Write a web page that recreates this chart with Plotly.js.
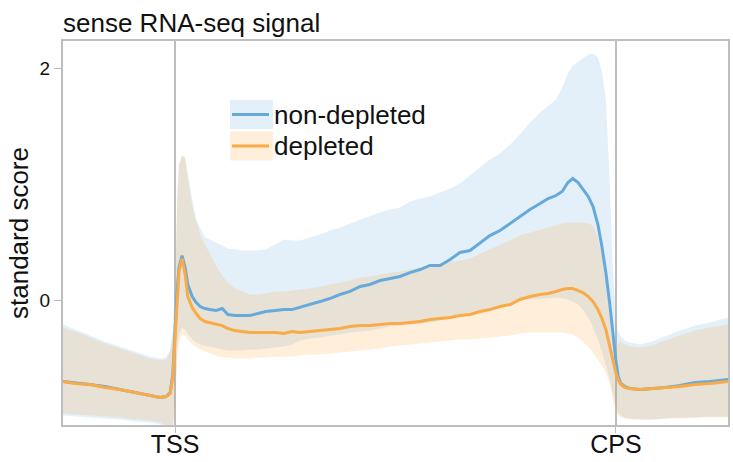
<!DOCTYPE html>
<html>
<head>
<meta charset="utf-8">
<script src="https://cdn.plot.ly/plotly-3.0.1.min.js"></script>
<style>html,body{margin:0;padding:0;background:#fff;}#chart{width:733px;height:462px;}</style>
</head>
<body>
<div id="chart"></div>
<script>
// Position along the metagene (TSS = 0, CPS = 100; flanks outside)
const positions = [-25.4,-22.7,-19.3,-15.9,-12.5,-9.1,-5.7,-3.4,-2.0,-1.1,
  -0.5,0,0.5,0.9,1.6,2.3,2.9,3.9,4.8,5.7,
  6.8,7.9,9.3,10.7,12.0,13.6,15.2,17.0,18.8,20.6,
  22.7,24.7,26.5,28.3,30.6,32.9,35.1,37.4,39.7,42.0,
  44.2,46.5,48.8,51.0,53.3,55.6,57.8,60.1,62.4,64.6,
  66.9,69.2,71.4,73.7,76.0,78.2,80.5,82.8,84.6,86.4,
  87.8,89.1,90.2,91.4,92.5,93.7,94.8,95.9,96.8,97.7,
  98.6,99.3,100,100.5,101.1,102.0,103.2,105.4,108.2,111.1,
  114.5,117.9,121.3,125.4];

const tickPositions = [0, 100];
const tickLabels = ['TSS', 'CPS'];
const seriesNames = ['non-depleted', 'depleted'];

// non-depleted: mean, upper and lower band
const nonDepletedMean = [-0.698,-0.707,-0.724,-0.741,-0.767,-0.793,-0.819,-0.836,-0.828,-0.793,
  -0.638,-0.250,0.095,0.284,0.388,0.284,0.138,0.034,-0.017,-0.052,
  -0.069,-0.078,-0.086,-0.069,-0.121,-0.129,-0.129,-0.129,-0.112,-0.095,
  -0.086,-0.078,-0.078,-0.060,-0.034,-0.009,0.017,0.052,0.078,0.121,
  0.138,0.172,0.190,0.207,0.241,0.267,0.302,0.302,0.353,0.414,
  0.431,0.500,0.560,0.603,0.664,0.724,0.784,0.836,0.879,0.905,
  0.940,1.017,1.052,1.017,0.957,0.897,0.810,0.655,0.466,0.241,
  -0.034,-0.293,-0.526,-0.655,-0.716,-0.741,-0.759,-0.767,-0.759,-0.750,
  -0.733,-0.707,-0.698,-0.681];
const nonDepletedUpper = [-0.207,-0.250,-0.302,-0.353,-0.397,-0.440,-0.483,-0.500,-0.491,-0.422,
  -0.250,0.095,0.871,1.172,1.241,1.233,1.086,0.871,0.698,0.629,
  0.543,0.526,0.500,0.474,0.448,0.440,0.431,0.431,0.431,0.440,
  0.483,0.526,0.517,0.517,0.543,0.569,0.603,0.629,0.664,0.698,
  0.724,0.759,0.784,0.802,0.853,0.879,0.897,0.931,0.966,1.009,
  1.078,1.147,1.216,1.267,1.345,1.431,1.534,1.621,1.681,1.733,
  1.836,1.957,2.026,2.060,2.095,2.121,2.129,2.095,1.974,1.733,
  1.000,0.267,-0.181,-0.267,-0.310,-0.345,-0.362,-0.379,-0.353,-0.310,
  -0.259,-0.216,-0.190,-0.147];
const nonDepletedLower = [-0.991,-1.000,-1.009,-1.017,-1.026,-1.043,-1.052,-1.069,-1.095,-1.112,
  -1.112,-0.853,-0.422,-0.293,-0.233,-0.250,-0.284,-0.336,-0.362,-0.379,
  -0.388,-0.397,-0.414,-0.422,-0.431,-0.431,-0.431,-0.422,-0.422,-0.414,
  -0.405,-0.397,-0.379,-0.345,-0.328,-0.319,-0.302,-0.293,-0.276,-0.267,
  -0.259,-0.241,-0.224,-0.216,-0.207,-0.198,-0.190,-0.172,-0.155,-0.138,
  -0.121,-0.095,-0.078,-0.060,-0.034,0.000,0.009,0.017,0.026,0.026,
  0.017,0.009,-0.009,-0.034,-0.078,-0.147,-0.233,-0.336,-0.440,-0.552,
  -0.681,-0.810,-0.914,-0.966,-0.991,-1.009,-1.017,-1.026,-1.026,-1.017,
  -1.009,-1.009,-1.000,-1.000];

// depleted: mean, upper and lower band
const depletedMean = [-0.698,-0.716,-0.724,-0.750,-0.767,-0.793,-0.819,-0.836,-0.828,-0.802,
  -0.664,-0.293,0.052,0.250,0.362,0.224,0.034,-0.060,-0.112,-0.155,
  -0.181,-0.190,-0.207,-0.216,-0.241,-0.259,-0.267,-0.276,-0.276,-0.276,
  -0.276,-0.284,-0.267,-0.276,-0.267,-0.259,-0.250,-0.241,-0.224,-0.216,
  -0.216,-0.207,-0.198,-0.198,-0.190,-0.181,-0.164,-0.155,-0.147,-0.129,
  -0.121,-0.095,-0.078,-0.052,-0.034,0.009,0.034,0.052,0.060,0.078,
  0.095,0.103,0.103,0.086,0.069,0.034,-0.009,-0.078,-0.155,-0.250,
  -0.405,-0.526,-0.629,-0.681,-0.724,-0.750,-0.759,-0.767,-0.759,-0.750,
  -0.741,-0.724,-0.716,-0.698];
const depletedUpper = [-0.233,-0.267,-0.319,-0.371,-0.414,-0.457,-0.500,-0.517,-0.509,-0.440,
  -0.293,0.009,0.871,1.172,1.259,1.233,1.043,0.810,0.681,0.569,
  0.483,0.397,0.302,0.216,0.155,0.103,0.078,0.052,0.052,0.060,
  0.078,0.078,0.086,0.095,0.103,0.121,0.138,0.155,0.172,0.198,
  0.207,0.224,0.241,0.250,0.267,0.284,0.293,0.310,0.328,0.345,
  0.362,0.405,0.440,0.474,0.517,0.560,0.586,0.612,0.629,0.647,
  0.664,0.672,0.672,0.672,0.672,0.664,0.647,0.543,0.379,0.138,
  -0.164,-0.336,-0.388,-0.371,-0.353,-0.379,-0.397,-0.405,-0.388,-0.345,
  -0.302,-0.259,-0.233,-0.207];
const depletedLower = [-0.974,-0.983,-0.991,-1.000,-1.009,-1.026,-1.034,-1.052,-1.078,-1.095,
  -1.095,-0.940,-0.509,-0.353,-0.293,-0.302,-0.336,-0.371,-0.405,-0.422,
  -0.440,-0.457,-0.474,-0.491,-0.491,-0.500,-0.500,-0.500,-0.491,-0.491,
  -0.483,-0.483,-0.483,-0.474,-0.466,-0.466,-0.457,-0.448,-0.440,-0.431,
  -0.422,-0.414,-0.397,-0.388,-0.379,-0.371,-0.362,-0.353,-0.345,-0.336,
  -0.336,-0.328,-0.319,-0.310,-0.302,-0.284,-0.276,-0.276,-0.276,-0.276,
  -0.276,-0.284,-0.293,-0.319,-0.353,-0.397,-0.448,-0.509,-0.560,-0.621,
  -0.724,-0.853,-0.957,-0.991,-1.009,-1.017,-1.026,-1.026,-1.026,-1.017,
  -1.017,-1.009,-1.009,-1.009];

const blueLine = 'rgb(102,170,220)';
const blueFill = 'rgba(102,170,220,0.18)';
const orangeLine = 'rgb(250,170,70)';
const orangeFill = 'rgba(250,170,70,0.2)';
const FONT = '"Liberation Sans", Arial, Helvetica, sans-serif';
const gray = '#bdbdbd';

const traces = [
  {x: positions, y: nonDepletedLower, mode: 'lines', line: {width: 0, color: blueLine}, showlegend: false, hoverinfo: 'skip'},
  {x: positions, y: nonDepletedUpper, mode: 'lines', line: {width: 0, color: blueLine}, fill: 'tonexty', fillcolor: blueFill, showlegend: false, hoverinfo: 'skip'},
  {x: positions, y: depletedLower, mode: 'lines', line: {width: 0, color: orangeLine}, showlegend: false, hoverinfo: 'skip'},
  {x: positions, y: depletedUpper, mode: 'lines', line: {width: 0, color: orangeLine}, fill: 'tonexty', fillcolor: orangeFill, showlegend: false, hoverinfo: 'skip'},
  {x: positions, y: nonDepletedMean, mode: 'lines', name: seriesNames[0], line: {width: 3, color: blueLine}, showlegend: false},
  {x: positions, y: depletedMean, mode: 'lines', name: seriesNames[1], line: {width: 3, color: orangeLine}, showlegend: false}
];

// manual legend (swatch box + line + label)
const px2x = p => (p - 63) / 665;
const py2y = p => (425 - p) / 384;
const legendRows = [
  {top: 100, bottom: 129, mid: 114.5, fill: blueFill, line: blueLine, name: seriesNames[0]},
  {top: 131.5, bottom: 160.5, mid: 146, fill: orangeFill, line: orangeLine, name: seriesNames[1]}
];
const shapes = [];
const annotations = [];
legendRows.forEach(r => {
  shapes.push({type: 'rect', xref: 'paper', yref: 'paper', x0: px2x(230), x1: px2x(273), y0: py2y(r.bottom), y1: py2y(r.top), fillcolor: r.fill, line: {width: 0}, layer: 'above'});
  shapes.push({type: 'line', xref: 'paper', yref: 'paper', x0: px2x(232), x1: px2x(269), y0: py2y(r.mid), y1: py2y(r.mid), line: {width: 3, color: r.line}, layer: 'above'});
  annotations.push({xref: 'paper', yref: 'paper', x: px2x(272), y: py2y(r.mid), xanchor: 'left', yanchor: 'middle', text: r.name, showarrow: false, font: {family: FONT, size: 26, color: '#111'}});
});

const layout = {
  width: 733, height: 462,
  margin: {l: 63, r: 5, t: 41, b: 37},
  paper_bgcolor: '#fff', plot_bgcolor: '#fff',
  font: {family: FONT, color: '#111'},
  title: {text: 'sense RNA-seq signal', font: {family: FONT, size: 26, color: '#111'}, x: 0, xref: 'paper', xanchor: 'left', y: 1 - 23/462, yref: 'container', yanchor: 'middle'},
  xaxis: {range: [-25.4, 125.4], tickmode: 'array', tickvals: tickPositions, ticktext: tickLabels, showgrid: true, gridcolor: gray, gridwidth: 1.5, zeroline: false, showline: true, mirror: true, linecolor: gray, linewidth: 2, ticks: 'outside', ticklen: 6, tickcolor: gray, ticklabelstandoff: -10, tickfont: {family: FONT, size: 25, color: '#111'}},
  yaxis: {range: [-1.073, 2.237], tickmode: 'array', tickvals: [0, 2], ticktext: ['0', '2'], showgrid: false, zeroline: false, showline: true, mirror: true, linecolor: gray, linewidth: 2, ticks: 'outside', ticklen: 7, tickcolor: gray, tickfont: {family: FONT, size: 19, color: '#111'}, title: {text: 'standard score', font: {family: FONT, size: 26, color: '#111'}, standoff: 4}},
  shapes: shapes,
  annotations: annotations,
  showlegend: false
};

Plotly.newPlot('chart', traces, layout, {displayModeBar: false, staticPlot: true});
</script>
</body>
</html>
